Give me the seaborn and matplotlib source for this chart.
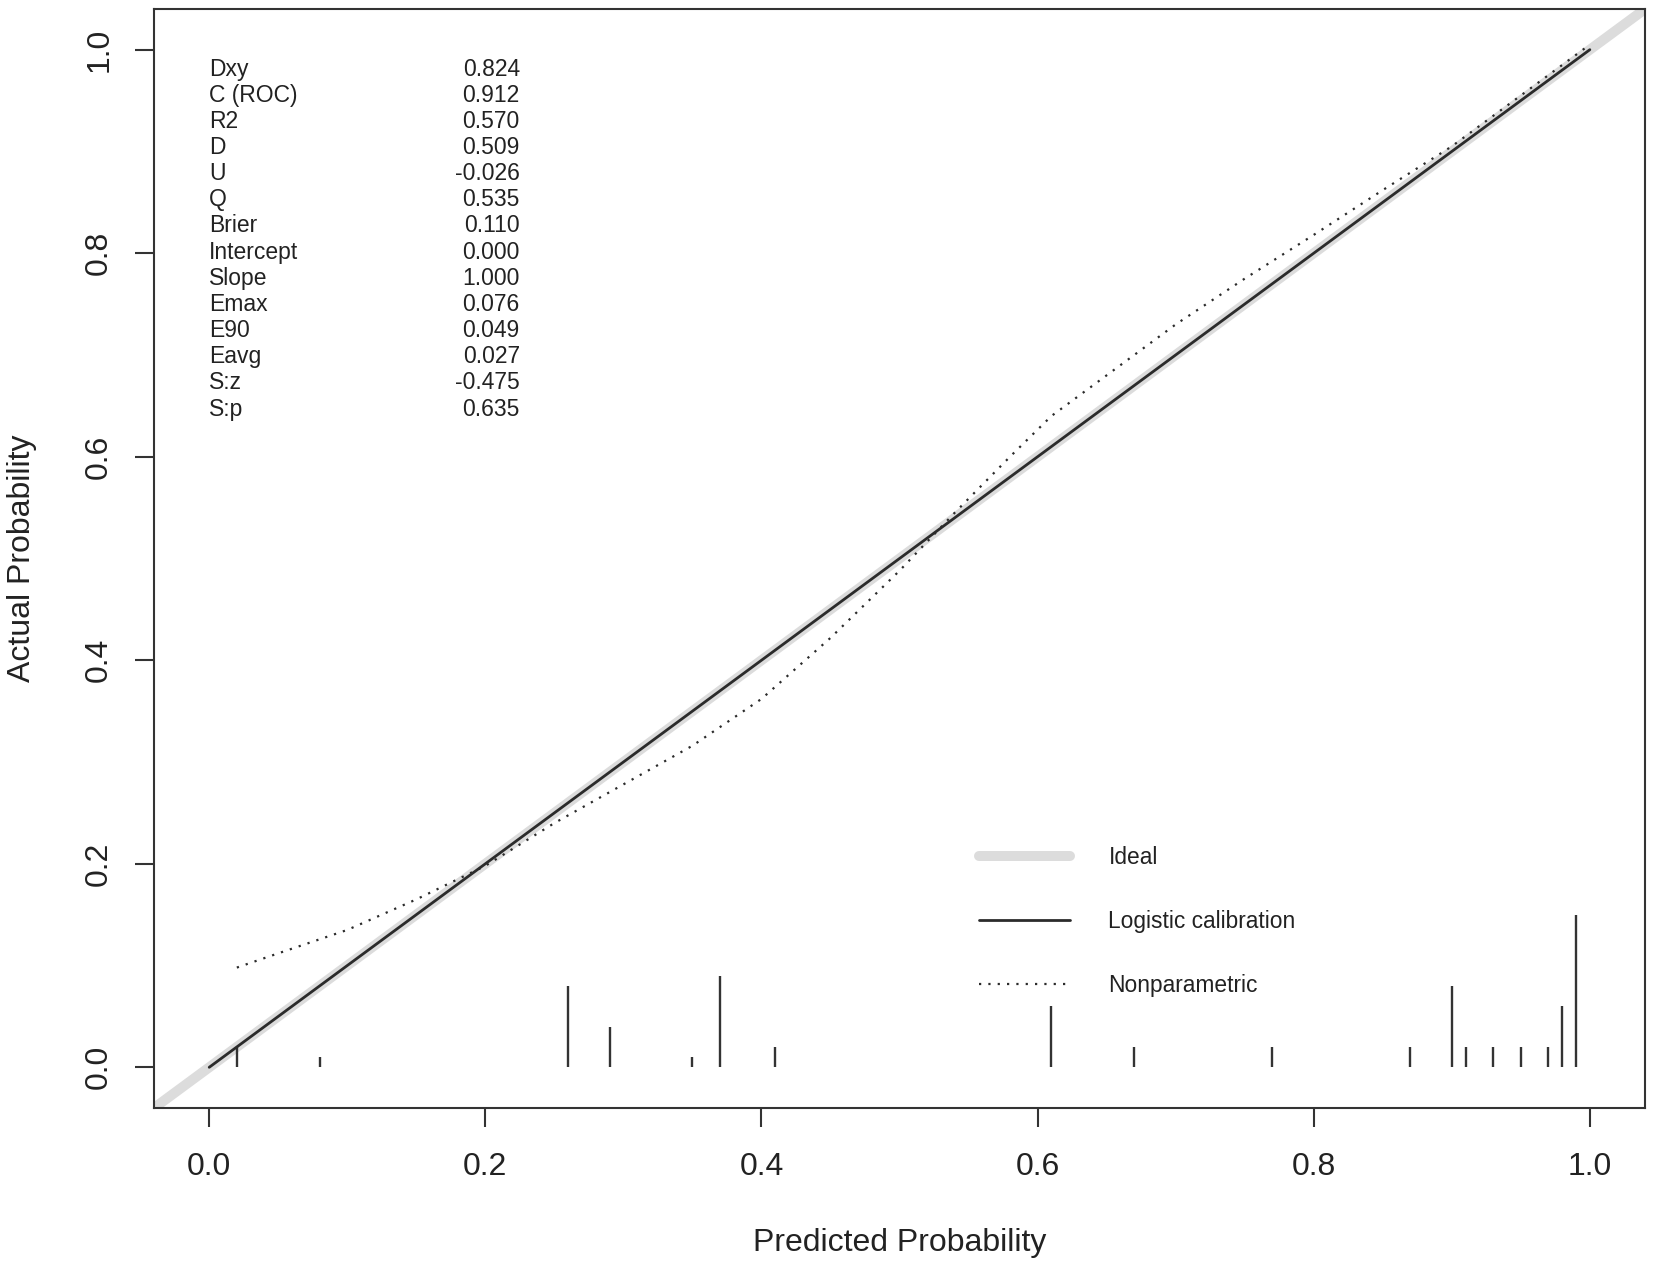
import numpy as np
import pandas as pd
import seaborn as sns
import matplotlib.pyplot as plt

# calibration summary
stat_names = [
    "Dxy", "C (ROC)", "R2", "D", "U", "Q", "Brier",
    "Intercept", "Slope", "Emax", "E90", "Eavg", "S:z", "S:p"
]
stat_values = [
    0.824, 0.912, 0.570, 0.509, -0.026, 0.535, 0.110,
    0.000, 1.000, 0.076, 0.049, 0.027, -0.475, 0.635
]

# logistic calibration line (intercept 0, slope 1)
logit_x = [0.0, 1.0]
logit_y = [0.0, 1.0]

# nonparametric (loess) curve
nonpar_x = [0.02, 0.05, 0.10, 0.15, 0.20, 0.25, 0.30, 0.35, 0.40, 0.45,
            0.50, 0.54, 0.58, 0.61, 0.65, 0.70, 0.75, 0.80, 0.85, 0.90,
            0.95, 1.00]
nonpar_y = [0.098, 0.112, 0.135, 0.165, 0.198, 0.240, 0.278, 0.316, 0.362, 0.422,
            0.488, 0.545, 0.600, 0.640, 0.680, 0.730, 0.775, 0.818, 0.862, 0.905,
            0.955, 1.005]

# distribution of predicted probabilities (spike histogram)
spike_x = [0.02, 0.08, 0.26, 0.29, 0.35, 0.37, 0.41, 0.61, 0.67, 0.77,
           0.87, 0.90, 0.91, 0.93, 0.95, 0.97, 0.98, 0.99]
spike_h = [0.02, 0.01, 0.08, 0.04, 0.01, 0.09, 0.02, 0.06, 0.02, 0.02,
           0.02, 0.08, 0.02, 0.02, 0.02, 0.02, 0.06, 0.15]

ticks = [0.0, 0.2, 0.4, 0.6, 0.8, 1.0]
tick_labels = ["0.0", "0.2", "0.4", "0.6", "0.8", "1.0"]

sns.set_style("ticks")
plt.rcParams["font.family"] = ["Liberation Sans", "DejaVu Sans"]

fig = plt.figure(figsize=(16.54, 12.65), dpi=100)
ax = fig.add_axes([0.0931, 0.1241, 0.9015, 0.8688])

ideal = ax.axline(
    (0, 0),
    slope=1,
    color="#dcdcdc",
    lw=7.2,
    solid_capstyle="round",
    zorder=1,
    label="Ideal"
)

sns.lineplot(
    x=logit_x,
    y=logit_y,
    ax=ax,
    color="#2b2b2b",
    lw=2.0,
    label="Logistic calibration",
    zorder=3
)

sns.lineplot(
    x=nonpar_x,
    y=nonpar_y,
    ax=ax,
    color="#2b2b2b",
    lw=1.6,
    linestyle=(0, (1, 3.2)),
    label="Nonparametric",
    zorder=3
)

ax.vlines(
    spike_x,
    0,
    spike_h,
    color="#333333",
    lw=1.7,
    zorder=2
)

for i, (name, val) in enumerate(zip(stat_names, stat_values)):
    y = 0.981 - i * 0.0257
    ax.text(0.0, y, name, fontsize=16.5, va="center", ha="left", color="#222222")
    ax.text(0.225, y, "{:.3f}".format(val), fontsize=16.5, va="center",
            ha="right", color="#222222")

handles, labels = ax.get_legend_handles_labels()
ax.legend(
    handles,
    labels,
    fontsize=16.4,
    frameon=False,
    handlelength=4.0,
    handletextpad=1.7,
    labelspacing=1.8,
    borderpad=0,
    borderaxespad=0,
    loc="center left",
    bbox_to_anchor=(0.553, 0.170),
    labelcolor="#222222"
)

ax.set_xlim(-0.04, 1.04)
ax.set_ylim(-0.04, 1.04)
ax.set_xticks(ticks)
ax.set_xticklabels(tick_labels)
ax.set_yticks(ticks)
ax.set_yticklabels(tick_labels, rotation=90, va="center")
ax.tick_params(length=13.7, width=1.5, labelsize=23,
               color="#333333", labelcolor="#222222")
ax.tick_params(axis="x", pad=18)
ax.tick_params(axis="y", pad=15)

for side in ["left", "right", "top", "bottom"]:
    ax.spines[side].set_visible(True)
    ax.spines[side].set_linewidth(1.5)
    ax.spines[side].set_color("#333333")

ax.set_xlabel("Predicted Probability", fontsize=23, labelpad=33, color="#222222")
ax.set_ylabel("Actual Probability", fontsize=23, labelpad=34, color="#222222")

fig.savefig("out.png", dpi=100)
